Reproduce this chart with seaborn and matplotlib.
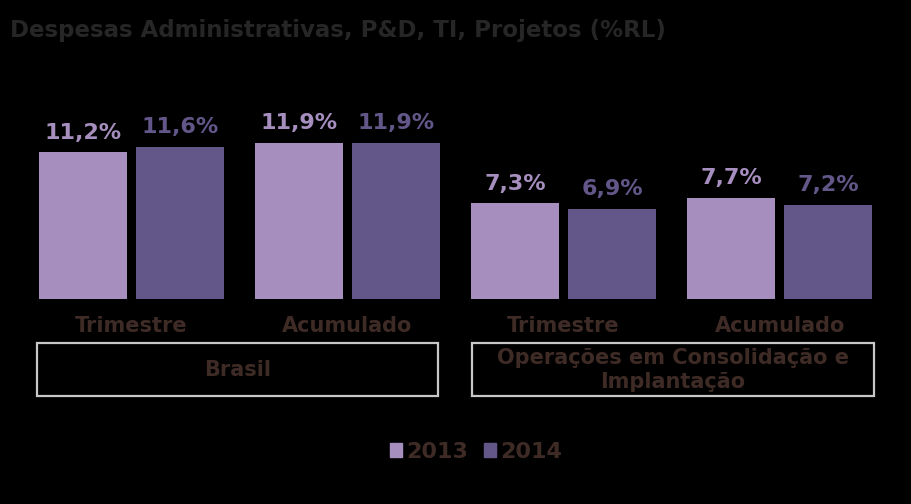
import pandas as pd
import matplotlib
matplotlib.use("Agg")
import matplotlib.pyplot as plt
from matplotlib.patches import Rectangle
import seaborn as sns

# data
periods = ["Trimestre", "Acumulado", "Trimestre", "Acumulado"]
groups = ["Brasil", "Brasil",
          "Operações em Consolidação e\nImplantação", "Operações em Consolidação e\nImplantação"]
years = ["2013", "2014"]
values_2013 = [11.2, 11.9, 7.3, 7.7]
values_2014 = [11.6, 11.9, 6.9, 7.2]

LIGHT = "#A68FBE"
DARK = "#63578A"
BROWN = "#3F2B25"
TITLE_GRAY = "#262626"

keys = [f"{g}|{p}" for g, p in zip(groups, periods)]
df = pd.DataFrame({
    "key": keys * 2,
    "year": [years[0]] * 4 + [years[1]] * 4,
    "value": values_2013 + values_2014,
})

sns.set_style("white")
plt.rcParams["font.family"] = ["DejaVu Sans"]

fig = plt.figure(figsize=(9.12, 5.04), dpi=100, facecolor="black")
ax = fig.add_axes([0, (504 - 299) / 504, 1, (299 - 40) / 504])
ax.set_facecolor("black")

sns.barplot(data=df, x="key", y="value", hue="year", order=keys,
            palette=[LIGHT, DARK], width=0.898, gap=0.094,
            saturation=1, legend=False, linewidth=0, ax=ax)

ax.set_xlim(-0.609, 3.613)
ax.set_ylim(0, 259 / 13.1)

for cont, col in zip(ax.containers, [LIGHT, DARK]):
    labels = [f"{v:.1f}%".replace(".", ",") for v in cont.datavalues]
    ax.bar_label(cont, labels=labels, padding=7, color=col,
                 fontsize=16, fontweight="bold")

ax.set_xticks(range(len(keys)))
ax.set_xticklabels(periods, color=BROWN, fontsize=15, fontweight="bold")
ax.tick_params(axis="x", length=0, pad=12)
ax.set_yticks([])
ax.set_xlabel("")
ax.set_ylabel("")
for s in ax.spines.values():
    s.set_visible(False)

# group boxes
W, H = 912, 504
box_specs = [(37, 438, "Brasil"), (472, 874, "Operações em Consolidação e\nImplantação")]
for x0, x1, txt in box_specs:
    fig.add_artist(Rectangle((x0 / W, 1 - 396 / H), (x1 - x0) / W, 53 / H,
                             transform=fig.transFigure, fill=False,
                             edgecolor="#C8C8C8", linewidth=1.6))
    fig.text((x0 + x1) / 2 / W, 1 - 370 / H, txt, ha="center", va="center",
             color=BROWN, fontsize=15, fontweight="bold", linespacing=1.2)

fig.text(10 / W, 1 - 31 / H, "Despesas Administrativas, P&D, TI, Projetos (%RL)",
         ha="left", va="center", color=TITLE_GRAY, fontsize=16.5, fontweight="bold")

handles = [Rectangle((0, 0), 1, 1, color=c) for c in [LIGHT, DARK]]
leg = fig.legend(handles, years, loc="center", bbox_to_anchor=(476 / W, 1 - 452 / H),
                 ncol=2, frameon=False, handlelength=0.55, handleheight=0.55,
                 handletextpad=0.2, columnspacing=0.7,
                 prop={"size": 16, "weight": "bold"})
for t in leg.get_texts():
    t.set_color(BROWN)

fig.savefig("out.png", dpi=100, facecolor="black")
